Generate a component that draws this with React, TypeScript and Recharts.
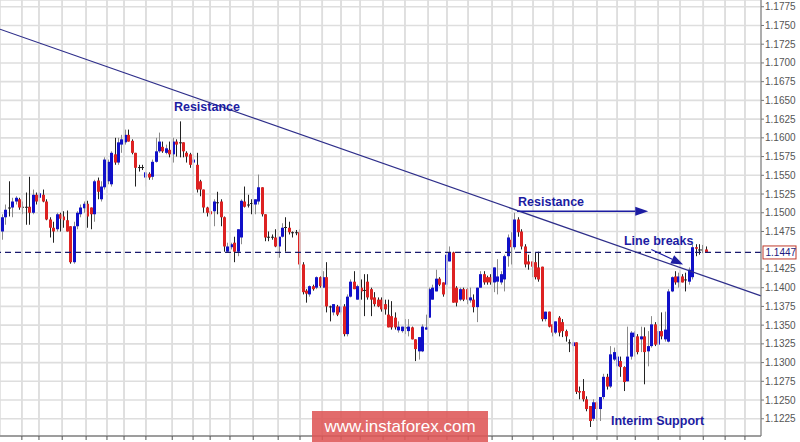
import { ComposedChart, Bar, XAxis, YAxis, CartesianGrid, ReferenceLine, ReferenceDot } from 'recharts';

// EUR/USD H4 candles (oldest first)
const opens = [
  1.1475, 1.1494, 1.1506, 1.1507, 1.1515, 1.1518, 1.1508, 1.1507, 1.1508, 1.1500,
  1.1524, 1.1520, 1.1524, 1.1515, 1.1491, 1.1480, 1.1478, 1.1498, 1.1495, 1.1490,
  1.1482, 1.1434, 1.1482, 1.1498, 1.1506, 1.1512, 1.1507, 1.1498, 1.1543, 1.1518,
  1.1534, 1.1542, 1.1538, 1.1578, 1.1567, 1.1591, 1.1594, 1.1604, 1.1596, 1.1580,
  1.1560, 1.1561, 1.1547, 1.1552, 1.1548, 1.1568, 1.1582, 1.1588, 1.1580, 1.1584,
  1.1578, 1.1595, 1.1594, 1.1594, 1.1580, 1.1578, 1.1567, 1.1564, 1.1542, 1.1531,
  1.1507, 1.1502, 1.1502, 1.1514, 1.1515, 1.1494, 1.1448, 1.1454, 1.1460, 1.1448,
  1.1467, 1.1515, 1.1511, 1.1512, 1.1511, 1.1515, 1.1534, 1.1498, 1.1467, 1.1468,
  1.1467, 1.1455, 1.1468, 1.1480, 1.1480, 1.1473, 1.1474, 1.1474, 1.1431, 1.1396,
  1.1391, 1.1402, 1.1400, 1.1414, 1.1400, 1.1414, 1.1375, 1.1367, 1.1375, 1.1367,
  1.1375, 1.1338, 1.1388, 1.1408, 1.1384, 1.1400, 1.1396, 1.1408, 1.1398, 1.1387,
  1.1384, 1.1384, 1.1378, 1.1364, 1.1362, 1.1360, 1.1343, 1.1342, 1.1347, 1.1342,
  1.1347, 1.1331, 1.1315, 1.1315, 1.1344, 1.1360, 1.1384, 1.1395, 1.1412, 1.1407,
  1.1404, 1.1435, 1.1447, 1.1400, 1.1384, 1.1398, 1.1398, 1.1383, 1.1384, 1.1374,
  1.1400, 1.1418, 1.1414, 1.1414, 1.1407, 1.1408, 1.1407, 1.1411, 1.1442, 1.1464,
  1.1454, 1.1491, 1.1475, 1.1455, 1.1435, 1.1435, 1.1434, 1.1427, 1.1428, 1.1358,
  1.1368, 1.1351, 1.1340, 1.1360, 1.1354, 1.1342, 1.1327, 1.1322, 1.1327, 1.1262,
  1.1262, 1.1251, 1.1242, 1.1225, 1.1247, 1.1238, 1.1254, 1.1281, 1.1268, 1.1304,
  1.1295, 1.1302, 1.1294, 1.1275, 1.1308, 1.1334, 1.1335, 1.1331, 1.1335, 1.1315,
  1.1322, 1.1351, 1.1324, 1.1342, 1.1331, 1.1328, 1.1395, 1.1415, 1.1407, 1.1415,
  1.1411, 1.1408, 1.1414, 1.1454, 1.1451, 1.1450, 1.1451,
];
const highs = [
  1.1498, 1.1511, 1.1542, 1.1520, 1.1522, 1.1520, 1.1515, 1.1527, 1.1548, 1.1531,
  1.1527, 1.1528, 1.1531, 1.1518, 1.1494, 1.1488, 1.1500, 1.1500, 1.1502, 1.1503,
  1.1482, 1.1488, 1.1502, 1.1511, 1.1515, 1.1516, 1.1507, 1.1544, 1.1547, 1.1542,
  1.1574, 1.1571, 1.1582, 1.1600, 1.1600, 1.1604, 1.1611, 1.1611, 1.1598, 1.1580,
  1.1564, 1.1564, 1.1555, 1.1554, 1.1571, 1.1600, 1.1607, 1.1595, 1.1591, 1.1595,
  1.1600, 1.1598, 1.1622, 1.1594, 1.1582, 1.1580, 1.1578, 1.1580, 1.1544, 1.1531,
  1.1508, 1.1504, 1.1518, 1.1528, 1.1518, 1.1495, 1.1460, 1.1460, 1.1468, 1.1478,
  1.1518, 1.1535, 1.1524, 1.1518, 1.1518, 1.1551, 1.1534, 1.1498, 1.1475, 1.1471,
  1.1478, 1.1468, 1.1486, 1.1494, 1.1488, 1.1475, 1.1477, 1.1478, 1.1434, 1.1398,
  1.1403, 1.1404, 1.1415, 1.1415, 1.1422, 1.1434, 1.1376, 1.1378, 1.1377, 1.1384,
  1.1378, 1.1391, 1.1411, 1.1422, 1.1404, 1.1411, 1.1418, 1.1418, 1.1400, 1.1394,
  1.1387, 1.1387, 1.1384, 1.1384, 1.1382, 1.1367, 1.1355, 1.1348, 1.1358, 1.1358,
  1.1348, 1.1331, 1.1334, 1.1351, 1.1364, 1.1400, 1.1404, 1.1424, 1.1414, 1.1407,
  1.1447, 1.1455, 1.1448, 1.1402, 1.1400, 1.1400, 1.1400, 1.1400, 1.1391, 1.1400,
  1.1422, 1.1422, 1.1416, 1.1418, 1.1427, 1.1438, 1.1422, 1.1444, 1.1471, 1.1474,
  1.1500, 1.1494, 1.1478, 1.1458, 1.1444, 1.1435, 1.1447, 1.1448, 1.1428, 1.1368,
  1.1368, 1.1351, 1.1355, 1.1362, 1.1358, 1.1344, 1.1331, 1.1328, 1.1327, 1.1268,
  1.1278, 1.1255, 1.1242, 1.1251, 1.1248, 1.1254, 1.1285, 1.1285, 1.1322, 1.1320,
  1.1311, 1.1308, 1.1295, 1.1348, 1.1342, 1.1342, 1.1338, 1.1348, 1.1347, 1.1342,
  1.1362, 1.1354, 1.1351, 1.1367, 1.1368, 1.1398, 1.1415, 1.1422, 1.1420, 1.1418,
  1.1420, 1.1427, 1.1458, 1.1458, 1.1458, 1.1457, 1.1455,
];
const lows = [
  1.1464, 1.1484, 1.1495, 1.1494, 1.1511, 1.1504, 1.1498, 1.1484, 1.1484, 1.1498,
  1.1511, 1.1515, 1.1514, 1.1490, 1.1467, 1.1460, 1.1475, 1.1475, 1.1480, 1.1475,
  1.1432, 1.1432, 1.1478, 1.1494, 1.1500, 1.1480, 1.1478, 1.1488, 1.1518, 1.1515,
  1.1531, 1.1538, 1.1535, 1.1564, 1.1564, 1.1580, 1.1591, 1.1595, 1.1578, 1.1535,
  1.1555, 1.1557, 1.1535, 1.1544, 1.1544, 1.1567, 1.1580, 1.1580, 1.1578, 1.1574,
  1.1567, 1.1575, 1.1574, 1.1574, 1.1567, 1.1560, 1.1548, 1.1527, 1.1522, 1.1500,
  1.1495, 1.1495, 1.1482, 1.1498, 1.1482, 1.1448, 1.1447, 1.1451, 1.1434, 1.1442,
  1.1458, 1.1507, 1.1507, 1.1498, 1.1498, 1.1511, 1.1495, 1.1462, 1.1462, 1.1464,
  1.1454, 1.1440, 1.1467, 1.1448, 1.1471, 1.1467, 1.1470, 1.1424, 1.1391, 1.1380,
  1.1388, 1.1396, 1.1398, 1.1400, 1.1400, 1.1367, 1.1355, 1.1363, 1.1362, 1.1364,
  1.1335, 1.1335, 1.1387, 1.1398, 1.1384, 1.1384, 1.1362, 1.1384, 1.1362, 1.1375,
  1.1374, 1.1368, 1.1364, 1.1347, 1.1344, 1.1344, 1.1340, 1.1340, 1.1338, 1.1335,
  1.1331, 1.1302, 1.1304, 1.1314, 1.1344, 1.1360, 1.1384, 1.1395, 1.1402, 1.1388,
  1.1398, 1.1435, 1.1380, 1.1375, 1.1382, 1.1382, 1.1378, 1.1380, 1.1367, 1.1354,
  1.1400, 1.1404, 1.1404, 1.1404, 1.1394, 1.1391, 1.1404, 1.1395, 1.1428, 1.1431,
  1.1451, 1.1468, 1.1451, 1.1427, 1.1424, 1.1414, 1.1411, 1.1408, 1.1355, 1.1355,
  1.1347, 1.1335, 1.1338, 1.1335, 1.1334, 1.1328, 1.1314, 1.1315, 1.1258, 1.1251,
  1.1248, 1.1235, 1.1214, 1.1222, 1.1222, 1.1222, 1.1251, 1.1264, 1.1266, 1.1302,
  1.1278, 1.1281, 1.1262, 1.1275, 1.1304, 1.1308, 1.1311, 1.1314, 1.1271, 1.1295,
  1.1320, 1.1322, 1.1322, 1.1331, 1.1328, 1.1327, 1.1394, 1.1404, 1.1400, 1.1407,
  1.1395, 1.1404, 1.1411, 1.1442, 1.1444, 1.1446, 1.1447,
];
const closes = [
  1.1494, 1.1504, 1.1507, 1.1515, 1.1520, 1.1507, 1.1507, 1.1508, 1.1500, 1.1524,
  1.1515, 1.1526, 1.1515, 1.1491, 1.1480, 1.1475, 1.1498, 1.1492, 1.1490, 1.1475,
  1.1434, 1.1482, 1.1500, 1.1507, 1.1512, 1.1495, 1.1498, 1.1542, 1.1528, 1.1535,
  1.1571, 1.1568, 1.1580, 1.1567, 1.1594, 1.1598, 1.1604, 1.1595, 1.1580, 1.1560,
  1.1561, 1.1560, 1.1554, 1.1547, 1.1568, 1.1582, 1.1595, 1.1582, 1.1586, 1.1578,
  1.1595, 1.1591, 1.1593, 1.1582, 1.1575, 1.1564, 1.1571, 1.1531, 1.1531, 1.1507,
  1.1500, 1.1498, 1.1515, 1.1513, 1.1494, 1.1455, 1.1455, 1.1458, 1.1448, 1.1478,
  1.1516, 1.1508, 1.1510, 1.1513, 1.1518, 1.1534, 1.1498, 1.1467, 1.1468, 1.1467,
  1.1455, 1.1468, 1.1480, 1.1481, 1.1474, 1.1474, 1.1473, 1.1431, 1.1394, 1.1392,
  1.1402, 1.1398, 1.1414, 1.1402, 1.1414, 1.1375, 1.1374, 1.1378, 1.1364, 1.1375,
  1.1338, 1.1388, 1.1408, 1.1398, 1.1402, 1.1395, 1.1397, 1.1387, 1.1384, 1.1378,
  1.1375, 1.1371, 1.1371, 1.1347, 1.1347, 1.1347, 1.1348, 1.1348, 1.1346, 1.1348,
  1.1331, 1.1318, 1.1334, 1.1348, 1.1347, 1.1398, 1.1400, 1.1412, 1.1404, 1.1391,
  1.1444, 1.1447, 1.1380, 1.1380, 1.1398, 1.1384, 1.1384, 1.1387, 1.1374, 1.1400,
  1.1418, 1.1407, 1.1407, 1.1407, 1.1427, 1.1415, 1.1418, 1.1442, 1.1467, 1.1454,
  1.1491, 1.1474, 1.1455, 1.1431, 1.1431, 1.1428, 1.1414, 1.1411, 1.1358, 1.1368,
  1.1348, 1.1340, 1.1355, 1.1340, 1.1342, 1.1335, 1.1326, 1.1327, 1.1261, 1.1260,
  1.1251, 1.1238, 1.1222, 1.1247, 1.1238, 1.1254, 1.1281, 1.1268, 1.1311, 1.1314,
  1.1308, 1.1294, 1.1274, 1.1308, 1.1340, 1.1340, 1.1314, 1.1335, 1.1314, 1.1322,
  1.1351, 1.1324, 1.1342, 1.1335, 1.1344, 1.1395, 1.1414, 1.1407, 1.1415, 1.1407,
  1.1410, 1.1424, 1.1454, 1.1452, 1.1450, 1.1451, 1.1447,
];

// price scale labels (1.1450 is covered by the last-price tag)
const priceTicks = [
  1.1225, 1.125, 1.1275, 1.13, 1.1325, 1.135, 1.1375, 1.14, 1.1425, 1.1475, 1.15,
  1.1525, 1.155, 1.1575, 1.16, 1.1625, 1.165, 1.1675, 1.17, 1.1725, 1.175, 1.1775,
];
// session separators, in candle units
const sessionBreaks = [
  5.8, 10.8, 17.6, 24.6, 30.7, 35.7, 42.1, 49.8, 55.9, 60.9, 66.7, 73.5, 80.8, 87.2, 93.7,
  99.2, 104.8, 111.5, 117.9, 124.7, 130.2, 136.4, 143.4, 149.3, 155.4, 161.3, 167.1,
  174.1, 180.0, 185.3, 192.0, 198.4, 205.2, 211.6, 217.4,
];
const lastPrice = 1.1447;
const trendLine = [{ x: -0.6, y: 1.1745 }, { x: 222.1, y: 1.1389 }];
const resistanceArrow = [{ x: 150.7, y: 1.1502 }, { x: 189.1, y: 1.1502 }];
const breakArrow = [{ x: 190.0, y: 1.1451 }, { x: 199.3, y: 1.1431 }];
const notes = [
  { text: 'Resistance', x: 50.3, y: 1.16355 },
  { text: 'Resistance', x: 151.0, y: 1.15096 },
  { text: 'Line breaks', x: 182.0, y: 1.14563 },
  { text: 'Interim Support', x: 178.2, y: 1.12172 },
];

const data = opens.map((o, i) => ({
  i,
  o,
  h: highs[i],
  l: lows[i],
  c: closes[i],
  range: [lows[i], highs[i]],
}));

const FONT = "Arial, 'Liberation Sans', sans-serif";
const NAVY = '#1c1ca2';

function Candle(props: any) {
  const { x, y, width, height, payload } = props;
  const { o, h, l, c } = payload;
  const top = Math.min(y, y + height);
  const span = Math.abs(height);
  const k = span / (h - l || 1);
  const cx = Math.round(x + width / 2) + 0.5;
  const bTop = top + (h - Math.max(o, c)) * k;
  const bH = Math.max(1, Math.abs(o - c) * k);
  const up = c > o;
  const flat = Math.abs(c - o) < 0.00015;
  const wick = flat ? '#222' : up ? '#8a8a8a' : '#222';
  const body = flat ? '#222' : up ? '#1010c8' : '#dd2222';
  return (
    <g>
      <line x1={cx} x2={cx} y1={top} y2={top + span} stroke={wick} strokeWidth={1} />
      <rect x={cx - 1.5} y={bTop} width={3} height={bH} fill={body} />
    </g>
  );
}

function arrowShape(headLen: number, headHalf: number, w: number) {
  return (p: any) => {
    const { x1, y1, x2, y2 } = p;
    const a = Math.atan2(y2 - y1, x2 - x1);
    const bx = x2 - headLen * Math.cos(a);
    const by = y2 - headLen * Math.sin(a);
    const nx = -Math.sin(a) * headHalf;
    const ny = Math.cos(a) * headHalf;
    return (
      <g>
        <line x1={x1} y1={y1} x2={bx} y2={by} stroke={NAVY} strokeWidth={w} />
        <polygon points={`${x2},${y2} ${bx + nx},${by + ny} ${bx - nx},${by - ny}`} fill={NAVY} />
      </g>
    );
  };
}

function PriceTag(props: any) {
  const { x, y, width } = props.viewBox;
  const left = x + width + 2;
  return (
    <g>
      <rect x={left} y={y - 6.5} width={33} height={13} fill="#fff" stroke="#c0392b" strokeWidth={1} />
      <text x={left + 2.5} y={y + 4} fontSize={10} fontFamily={FONT} fill="#1a1a80">
        {lastPrice.toFixed(4)}
      </text>
    </g>
  );
}

const noLabel = () => <g />;

export default function App() {
  return (
    <div style={{ position: 'absolute', left: 0, top: 0, width: 800, height: 442, background: '#fff' }}>
      <ComposedChart width={800} height={442} data={data} margin={{ top: 0, right: 0, left: 0, bottom: 0 }}>
        <CartesianGrid stroke="#dedede" strokeWidth={1.6} />
        {sessionBreaks.map((v) => (
          <ReferenceLine key={v} x={v} stroke="#dedede" strokeWidth={1.6} />
        ))}
        <XAxis
          dataKey="i"
          type="number"
          domain={[-0.6, 222.1]}
          allowDataOverflow
          ticks={sessionBreaks}
          interval={0}
          tick={noLabel}
          tickSize={4}
          height={6}
          axisLine={{ stroke: '#555' }}
          tickLine={{ stroke: '#555' }}
        />
        <YAxis
          orientation="right"
          type="number"
          domain={[1.1202, 1.1784]}
          allowDataOverflow
          ticks={priceTicks}
          interval={0}
          width={39}
          tickSize={3}
          tickMargin={1}
          tickFormatter={(v: number) => v.toFixed(4)}
          tick={{ fontSize: 10, fill: '#555', fontFamily: FONT }}
          axisLine={{ stroke: '#777' }}
          tickLine={{ stroke: '#777' }}
        />
        <ReferenceLine
          y={lastPrice}
          stroke="#1a1a6e"
          strokeWidth={1.2}
          strokeDasharray="6 4"
          label={<PriceTag />}
        />
        <ReferenceLine segment={trendLine} stroke="#2e2e8a" strokeWidth={1.2} ifOverflow="visible" />
        <Bar dataKey="range" barSize={3} shape={Candle} isAnimationActive={false} />
        <ReferenceLine segment={resistanceArrow} ifOverflow="visible" shape={arrowShape(13, 4.5, 1.6)} />
        <ReferenceLine segment={breakArrow} ifOverflow="visible" shape={arrowShape(12, 4.5, 1.2)} />
        {notes.map((n, k) => (
          <ReferenceDot
            key={k}
            x={n.x}
            y={n.y}
            r={0}
            ifOverflow="visible"
            shape={(p: any) => (
              <text x={p.cx} y={p.cy} fontSize={12.5} fontWeight="bold" fontFamily={FONT} fill={NAVY}>
                {n.text}
              </text>
            )}
          />
        ))}
      </ComposedChart>
      <div
        style={{
          position: 'absolute',
          left: 312,
          top: 411,
          width: 176,
          height: 31,
          background: 'rgba(222, 86, 86, 0.88)',
          color: '#fff',
          fontFamily: FONT,
          fontSize: 17,
          lineHeight: '31px',
          textAlign: 'center',
        }}
      >
        www.instaforex.com
      </div>
    </div>
  );
}
